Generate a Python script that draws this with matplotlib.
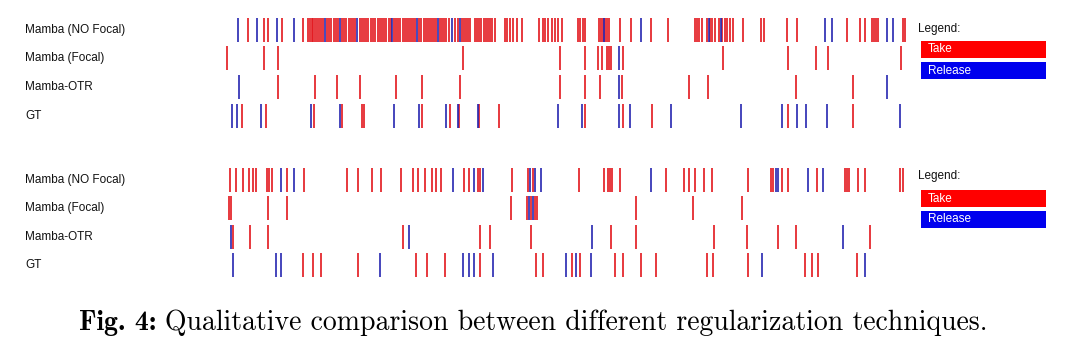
import matplotlib
matplotlib.use("Agg")
import matplotlib.pyplot as plt
from matplotlib.patches import Rectangle

plt.rcParams['font.family'] = ['Liberation Sans', 'DejaVu Sans']

rows = ["Mamba (NO Focal)", "Mamba (Focal)", "Mamba-OTR", "GT"]

# ---------- panel 1 (frame positions) ----------
p1_nofocal_take = [248, 264, 268, 282, 303,
                   308, 310, 312, 313, 315, 317, 319, 321, 323, 327, 329, 331, 334, 336, 338,
                   342, 344, 346, 349, 351, 353, 355, 360, 362, 364, 366, 368, 371, 373, 375,
                   378, 380, 382, 384, 386, 389, 391, 394, 396, 398, 400, 403, 405, 407, 409,
                   411, 413, 415, 419, 421, 424, 426, 428, 430, 432, 434, 436, 440, 442, 444,
                   446, 449, 455, 458, 462, 464, 466, 468, 470, 475, 477, 479, 481, 484, 486,
                   488, 490, 492, 495,
                   505, 507, 510, 513, 517, 522, 539, 543, 545, 548, 552, 555, 558, 562,
                   578, 580, 583, 585, 599, 601, 603, 605, 607, 609, 620, 631, 651, 668,
                   695, 697, 699, 702, 707, 710, 712, 715, 719, 722, 725, 727, 730, 733, 743,
                   761, 764, 787, 797, 847, 860, 865, 872, 874, 876, 878, 903, 905]
p1_nofocal_release = [238, 257, 277, 294, 325, 340, 357, 392, 417, 438, 452, 460,
                      604, 641, 709, 721, 825, 832, 887, 893]
p1_focal_take = [227, 264, 278, 463, 560, 585, 598, 602, 607, 609, 611, 623, 723, 788, 816, 828, 901]
p1_focal_release = [619]
p1_otr_take = [278, 315, 337, 360, 396, 422, 460, 560, 585, 600, 622, 689, 708, 796, 853]
p1_otr_release = [239, 619, 887]
p1_gt_take = [242, 266, 314, 342, 362, 364, 422, 450, 459, 479, 499, 585, 623, 652, 788, 853]
p1_gt_release = [232, 237, 261, 311, 340, 394, 419, 446, 458, 478, 558, 582, 619, 630, 671,
                 741, 782, 797, 806, 827, 900]

# ---------- panel 2 ----------
p2_nofocal_take = [230, 236, 243, 249, 253, 256, 267, 269, 272, 287, 304, 347, 358, 372, 381,
                   401, 413, 418, 425, 432, 436, 441, 464, 469, 478, 480, 512, 528, 533,
                   579, 604, 608, 610, 612, 620, 666, 684, 689, 695, 704, 712, 748, 771, 773,
                   782, 788, 817, 845, 847, 849, 858, 865, 900, 903]
p2_nofocal_release = [281, 294, 453, 474, 483, 530, 535, 541, 651, 776, 778, 808, 823]
p2_focal_take = [229, 231, 268, 287, 511, 527, 531, 535, 537, 636, 693, 742]
p2_focal_release = [529, 533]
p2_otr_take = [233, 250, 268, 403, 480, 490, 531, 611, 636, 714, 747, 778, 796, 870]
p2_otr_release = [231, 409, 592, 843]
p2_gt_take = [303, 313, 321, 358, 416, 427, 445, 480, 536, 543, 572, 580, 615, 623, 641, 656,
              707, 713, 748, 805, 812, 818, 857]
p2_gt_release = [233, 276, 281, 380, 463, 469, 474, 493, 566, 576, 591, 762, 865]

panels = [
    ([p1_nofocal_take, p1_focal_take, p1_otr_take, p1_gt_take],
     [p1_nofocal_release, p1_focal_release, p1_otr_release, p1_gt_release]),
    ([p2_nofocal_take, p2_focal_take, p2_otr_take, p2_gt_take],
     [p2_nofocal_release, p2_focal_release, p2_otr_release, p2_gt_release]),
]

TAKE = '#e3161d'
REL = '#2626b0'
W, H = 1070, 350
fig = plt.figure(figsize=(W / 100, H / 100), dpi=100)

panel_rows = [[30, 58, 87, 116], [180, 208, 237, 265]]
legend_y = [(29, 41, 62), (176, 190, 211)]

for (takes, rels), ys, (ly, ry, by) in zip(panels, panel_rows, legend_y):
    top, bot = ys[0] - 15, ys[-1] + 15
    ax = fig.add_axes([222 / W, 1 - bot / H, (912 - 222) / W, (bot - top) / H])
    ax.set_xlim(222, 912)
    ax.set_ylim(bot, top)
    ax.axis('off')
    ax.eventplot(takes, lineoffsets=ys, linelengths=24, colors=TAKE, linewidths=1.2)
    ax.eventplot(rels, lineoffsets=ys, linelengths=24, colors=REL, linewidths=1.2)
    for name, y in zip(rows, ys):
        fig.text(25 / W, 1 - y / H, name, fontsize=8.5, va='center', ha='left', color='#111111')
    # legend
    fig.text(918 / W, 1 - ly / H, "Legend:", fontsize=8.5, va='center', ha='left', color='#111111')
    for y0, col, lab in [(ry, '#ff0000', 'Take'), (by, '#0000ee', 'Release')]:
        fig.patches.append(Rectangle((921 / W, 1 - (y0 + 17) / H), 125 / W, 17 / H,
                                     transform=fig.transFigure, facecolor=col,
                                     edgecolor='none'))
        fig.text(928 / W, 1 - (y0 + 8.5) / H, lab, fontsize=8.5, va='center', ha='left',
                 color='white')

# caption: bold prefix + roman text, laid out side by side
renderer = fig.canvas.get_renderer()
cap_y = 1 - 323 / H
t1 = fig.text(0, cap_y, "Fig. 4:", fontsize=20, family='cmb10', ha='left', va='center')
t2 = fig.text(0, cap_y, "Qualitative comparison between different regularization techniques.",
              fontsize=20, family='cmr10', ha='left', va='center')
w1 = t1.get_window_extent(renderer).width
w2 = t2.get_window_extent(renderer).width
gap = 9
total = w1 + gap + w2
x0 = (533 - total / 2)
t1.set_x(x0 / W)
t2.set_x((x0 + w1 + gap) / W)

fig.savefig('out.png', dpi=100, facecolor='white')
